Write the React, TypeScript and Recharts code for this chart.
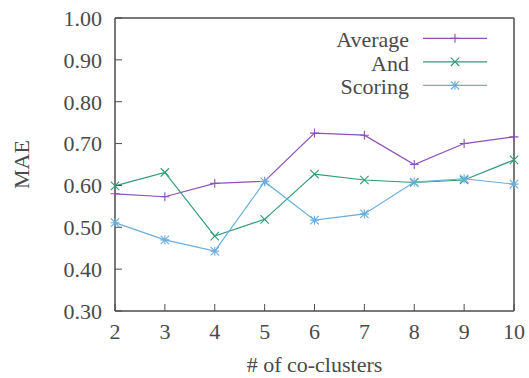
import React from 'react'
import { LineChart, Line, XAxis, YAxis, Legend } from 'recharts'

const clusters = [2, 3, 4, 5, 6, 7, 8, 9, 10]
const averageMae = [0.580, 0.573, 0.605, 0.610, 0.725, 0.720, 0.650, 0.700, 0.716]
const andMae = [0.599, 0.631, 0.479, 0.519, 0.627, 0.613, 0.607, 0.613, 0.661]
const scoringMae = [0.511, 0.470, 0.443, 0.609, 0.517, 0.532, 0.608, 0.616, 0.603]
const xTicks = [2, 3, 4, 5, 6, 7, 8, 9, 10]
const yTicks = [0.3, 0.4, 0.5, 0.6, 0.7, 0.8, 0.9, 1.0]

const data = clusters.map((k, i) => ({
  k,
  average: averageMae[i],
  and: andMae[i],
  scoring: scoringMae[i],
}))

// serif like gnuplot's Times output
const FONT = "'Liberation Serif', 'Times New Roman', Times, 'DejaVu Serif', serif"
const TEXT = '#4a4a4a'
const AXIS = '#4d4d4d'

const series = [
  { key: 'average', name: 'Average', color: '#8e4fba', marker: 'plus' },
  { key: 'and', name: 'And', color: '#2f9c74', marker: 'cross' },
  { key: 'scoring', name: 'Scoring', color: '#6aaedd', marker: 'star' },
]

function Marker({ cx, cy, kind, color }: { cx: number; cy: number; kind: string; color: string }) {
  const s = 4.5
  const d = 4.2
  const plus = `M${cx - s},${cy}H${cx + s}M${cx},${cy - s}V${cy + s}`
  const cross = `M${cx - d},${cy - d}L${cx + d},${cy + d}M${cx - d},${cy + d}L${cx + d},${cy - d}`
  let path = plus
  if (kind === 'cross') path = cross
  if (kind === 'star') path = plus + cross
  return <path d={path} stroke={color} strokeWidth={1.1} fill="none" />
}

const makeDot = (kind: string, color: string) => (props: any) => {
  const { cx, cy, index } = props
  if (cx == null || cy == null) return <g key={index} />
  return <Marker key={index} cx={cx} cy={cy} kind={kind} color={color} />
}

function LegendBox() {
  return (
    <svg width={529} height={100} style={{ display: 'block' }}>
      {series.map((s, i) => {
        const y = 38.3 + i * 23.5
        return (
          <g key={s.key}>
            <text x={409} y={y + 8.7} textAnchor="end" fontFamily={FONT} fontSize={22} fill={TEXT}>
              {s.name}
            </text>
            <line x1={423} x2={487} y1={y} y2={y} stroke={s.color} strokeWidth={1.2} />
            <Marker cx={455} cy={y} kind={s.marker} color={s.color} />
          </g>
        )
      })}
    </svg>
  )
}

export default function App() {
  const tickStyle = { fontSize: 22, fill: TEXT, fontFamily: FONT }
  return (
    <div style={{ position: 'absolute', left: 0, top: 0, width: 529, height: 378, background: 'white' }}>
      <LineChart width={529} height={378} data={data} margin={{ top: 17, right: 14, bottom: 0, left: 0 }}>
        <XAxis
          xAxisId="b"
          dataKey="k"
          type="number"
          domain={[2, 10]}
          ticks={xTicks}
          height={67}
          tick={tickStyle}
          tickSize={-7}
          tickMargin={19}
          axisLine={{ stroke: AXIS, strokeWidth: 1.5 }}
          tickLine={{ stroke: AXIS }}
          label={{
            content: ({ viewBox }: any) => (
              <text
                x={viewBox.x + viewBox.width / 2}
                y={viewBox.y + 61}
                textAnchor="middle"
                fontFamily={FONT}
                fontSize={22}
                fill={TEXT}
              >
                # of co-clusters
              </text>
            ),
          }}
        />
        <XAxis
          xAxisId="t"
          dataKey="k"
          type="number"
          orientation="top"
          domain={[2, 10]}
          ticks={xTicks}
          height={1}
          tick={false}
          tickSize={-7}
          axisLine={{ stroke: AXIS, strokeWidth: 1.5 }}
          tickLine={{ stroke: AXIS }}
        />
        <YAxis
          yAxisId="l"
          type="number"
          domain={[0.3, 1.0]}
          ticks={yTicks}
          width={115}
          tick={tickStyle}
          tickFormatter={(v: number) => v.toFixed(2)}
          tickSize={-7}
          tickMargin={20}
          axisLine={{ stroke: AXIS, strokeWidth: 1.5 }}
          tickLine={{ stroke: AXIS }}
          label={{
            content: ({ viewBox }: any) => {
              const cx = 21
              const cy = viewBox.y + viewBox.height / 2
              return (
                <text
                  x={cx}
                  y={cy}
                  textAnchor="middle"
                  dominantBaseline="central"
                  transform={`rotate(-90, ${cx}, ${cy})`}
                  fontFamily={FONT}
                  fontSize={22}
                  fill={TEXT}
                >
                  MAE
                </text>
              )
            },
          }}
        />
        <YAxis
          yAxisId="r"
          type="number"
          orientation="right"
          domain={[0.3, 1.0]}
          ticks={yTicks}
          width={1}
          tick={false}
          tickSize={-7}
          axisLine={{ stroke: AXIS, strokeWidth: 1.5 }}
          tickLine={{ stroke: AXIS }}
        />
        <Legend
          layout="vertical"
          verticalAlign="middle"
          align="center"
          wrapperStyle={{ left: 0, top: 0, width: 529, height: 100 }}
          content={() => <LegendBox />}
        />
        {series.map((s) => (
          <Line
            key={s.key}
            xAxisId="b"
            yAxisId="l"
            type="linear"
            dataKey={s.key}
            name={s.name}
            stroke={s.color}
            strokeWidth={1.2}
            dot={makeDot(s.marker, s.color)}
            activeDot={false}
            isAnimationActive={false}
          />
        ))}
      </LineChart>
    </div>
  )
}
